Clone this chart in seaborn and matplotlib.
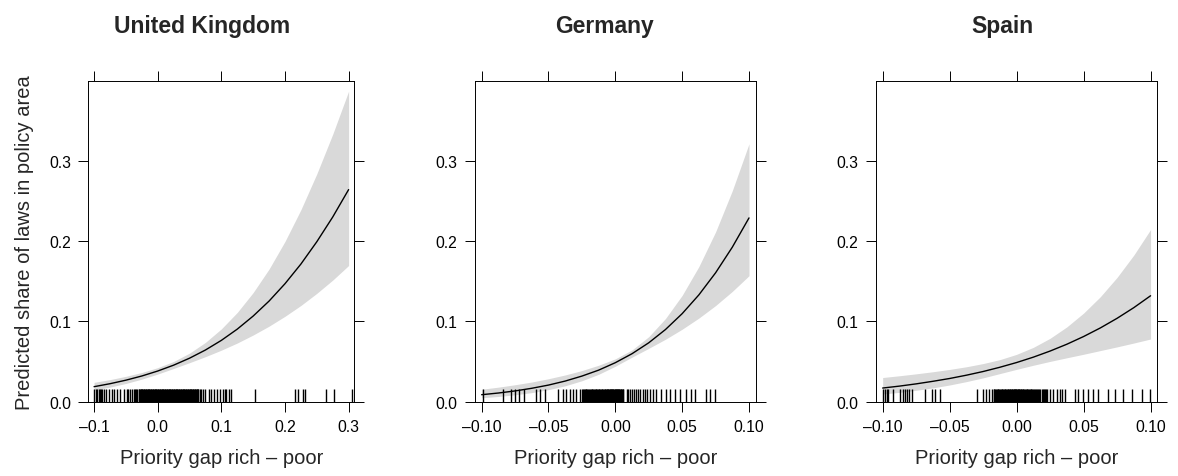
import matplotlib
matplotlib.use("Agg")
import matplotlib.pyplot as plt
import numpy as np
import pandas as pd
import seaborn as sns

# predicted share (line) and 95% band
uk_x = [-0.1, -0.075, -0.05, -0.025, 0.0, 0.025, 0.05, 0.075, 0.1,
        0.125, 0.15, 0.175, 0.2, 0.225, 0.25, 0.275, 0.3]
uk_fit = [0.0187, 0.0224, 0.0268, 0.0320, 0.0382, 0.0455, 0.0542, 0.0644, 0.0764,
          0.0904, 0.1067, 0.1254, 0.1470, 0.1715, 0.1993, 0.2301, 0.2643]
uk_upper = [0.0241, 0.0275, 0.0316, 0.0364, 0.0424, 0.0501, 0.0605, 0.0739, 0.0907,
            0.1112, 0.1360, 0.1653, 0.1997, 0.2392, 0.2839, 0.3333, 0.3870]
uk_lower = [0.0145, 0.0182, 0.0227, 0.0281, 0.0344, 0.0414, 0.0486, 0.0561, 0.0642,
            0.0731, 0.0831, 0.0941, 0.1064, 0.1199, 0.1350, 0.1515, 0.1697]

de_x = [-0.1, -0.0875, -0.075, -0.0625, -0.05, -0.0375, -0.025, -0.0125, 0.0,
        0.0125, 0.025, 0.0375, 0.05, 0.0625, 0.075, 0.0875, 0.1]
de_fit = [0.0087, 0.0108, 0.0134, 0.0167, 0.0207, 0.0257, 0.0319, 0.0393, 0.0486,
          0.0598, 0.0734, 0.0899, 0.1097, 0.1331, 0.1606, 0.1925, 0.2290]
de_upper = [0.0155, 0.0181, 0.0211, 0.0245, 0.0286, 0.0333, 0.0388, 0.0454, 0.0534,
            0.0645, 0.0810, 0.1036, 0.1325, 0.1684, 0.2116, 0.2629, 0.3214]
de_lower = [0.0049, 0.0065, 0.0086, 0.0113, 0.0150, 0.0198, 0.0261, 0.0341, 0.0442,
            0.0555, 0.0665, 0.0778, 0.0903, 0.1042, 0.1198, 0.1374, 0.1570]

es_x = de_x
es_fit = [0.0170, 0.0194, 0.0222, 0.0254, 0.0289, 0.0330, 0.0376, 0.0429, 0.0488,
          0.0555, 0.0631, 0.0716, 0.0812, 0.0919, 0.1039, 0.1172, 0.1320]
es_upper = [0.0301, 0.0323, 0.0347, 0.0373, 0.0402, 0.0435, 0.0475, 0.0524, 0.0590,
            0.0677, 0.0790, 0.0932, 0.1104, 0.1308, 0.1549, 0.1827, 0.2145]
es_lower = [0.0096, 0.0116, 0.0142, 0.0172, 0.0208, 0.0250, 0.0297, 0.0350, 0.0403,
            0.0454, 0.0502, 0.0547, 0.0591, 0.0637, 0.0683, 0.0731, 0.0781]

# observed priority gaps (rug)
uk_rug = [-0.100, -0.097, -0.095, -0.093, -0.091, -0.089, -0.087, -0.084, -0.081, -0.077,
          -0.072, -0.068, -0.064, -0.060, -0.053, -0.049, -0.046, -0.043, -0.040, -0.038,
          -0.036, -0.034, -0.032, -0.030, -0.028, -0.026, -0.024, -0.022, -0.020, -0.018,
          -0.016, -0.014, -0.012, -0.010, -0.008, -0.006, -0.004, -0.002, 0.000, 0.002,
          0.004, 0.006, 0.008, 0.010, 0.012, 0.014, 0.016, 0.018, 0.020, 0.022, 0.024,
          0.026, 0.028, 0.030, 0.032, 0.034, 0.036, 0.038, 0.040, 0.042, 0.044, 0.046,
          0.048, 0.050, 0.052, 0.054, 0.056, 0.058, 0.060, 0.062, 0.064, 0.068, 0.071,
          0.075, 0.080, 0.084, 0.089, 0.093, 0.098, 0.102, 0.105, 0.108, 0.112, 0.115,
          -0.029, -0.027, -0.025, -0.023, -0.021, -0.019, -0.017, -0.015, -0.013, -0.011,
          -0.009, -0.007, -0.005, -0.003, -0.001, 0.001, 0.003, 0.005, 0.007, 0.009,
          0.011, 0.013, 0.015, 0.017, 0.019, 0.021, 0.023, 0.025, 0.027, 0.029, 0.031,
          0.033, 0.035, 0.037, 0.039, 0.041, 0.043, 0.045, 0.047, 0.049, 0.051, 0.053,
          0.055, 0.057, 0.059, 0.061, 0.063, 0.066,
          0.153, 0.216, 0.220, 0.228, 0.231, 0.264, 0.277, 0.305]
de_rug = [-0.0993, -0.0839, -0.0782, -0.0752, -0.0722, -0.0682, -0.059, -0.056, -0.0528,
          -0.0428, -0.0391, -0.0371, -0.0341, -0.0316, -0.0291, -0.0266, -0.0248, -0.0235,
          -0.0222, -0.021, -0.0198, -0.0185, -0.0172, -0.016, -0.0148, -0.0137, -0.0125,
          -0.0114, -0.0103, -0.0092, -0.0081, -0.0071, -0.0061, -0.0052, -0.0043, -0.0034,
          -0.0026, -0.0018, -0.001, -0.0002, 0.0006, 0.0014, 0.0022, 0.0031, 0.004, 0.005,
          0.006, -0.0241, -0.0228, -0.0216, -0.0204, -0.0191, -0.0178, -0.0166, -0.0154,
          -0.0142, -0.0131, -0.0119, -0.0108, -0.0097, -0.0086, -0.0076, -0.0066, -0.0056,
          -0.0047, -0.0038, -0.003, -0.0022, -0.0014, -0.0006, 0.0002, 0.001, 0.0018,
          0.0026, 0.0035, 0.0045, 0.0055,
          0.0085, 0.0098, 0.011, 0.0125, 0.0142, 0.0155, 0.0168, 0.0185, 0.0205,
          0.0222, 0.024, 0.0262, 0.0282, 0.0307, 0.0344, 0.0382, 0.0407, 0.0444, 0.0481,
          0.0531, 0.0569, 0.0593, 0.0681, 0.0706, 0.0743]
es_rug = [-0.1, -0.0983, -0.097, -0.0958, -0.0921, -0.0871, -0.0851, -0.0834, -0.0821,
          -0.0801, -0.0784, -0.0684, -0.0634, -0.061, -0.0572, -0.0299, -0.0249, -0.0229,
          -0.0204, -0.0187, -0.0172, -0.016, -0.0148, -0.0136, -0.0124, -0.0112, -0.0101,
          -0.009, -0.0079, -0.0068, -0.0058, -0.0048, -0.0038, -0.0028, -0.0019, -0.001,
          -0.0001, 0.0008, 0.0017, 0.0026, 0.0036, 0.0046, 0.0057, 0.0068, 0.008, 0.0092,
          0.0105, 0.0118, 0.0132, 0.0147, 0.0163, 0.0178, 0.0195, 0.021, 0.0224,
          -0.0166, -0.0154, -0.0142, -0.013, -0.0118, -0.0106, -0.0095, -0.0084, -0.0073,
          -0.0063, -0.0053, -0.0043, -0.0033, -0.0023, -0.0014, -0.0005, 0.0004, 0.0012,
          0.0021, 0.0031, 0.0041, 0.0051, 0.0062, 0.0074, 0.0086, 0.0098, 0.0111, 0.0125,
          0.014, 0.0155, 0.017, 0.0186, 0.0202, 0.0217,
          0.0249, 0.0274, 0.0299, 0.0323, 0.0336, 0.036, 0.0435, 0.046, 0.0498, 0.0535,
          0.0572, 0.061, 0.0684, 0.0734, 0.0796, 0.0858, 0.0933, 0.0995]

countries = ["United Kingdom", "Germany", "Spain"]
uk_ticks = [-0.1, 0.0, 0.1, 0.2, 0.3]
de_ticks = [-0.10, -0.05, 0.00, 0.05, 0.10]
y_ticks = [0.0, 0.1, 0.2, 0.3]

sns.set_style("ticks")
plt.rcParams["font.family"] = ["Liberation Sans", "DejaVu Sans"]

fig = plt.figure(figsize=(11.78, 4.77), dpi=100)

panels = [
    (uk_x, uk_fit, uk_upper, uk_lower, uk_rug, uk_ticks, "%.1f", (-0.109, 0.309), [0.0750, 0.1558, 0.2258, 0.6729], 202.5),
    (de_x, de_fit, de_upper, de_lower, de_rug, de_ticks, "%.2f", (-0.105, 0.105), [0.4032, 0.1558, 0.2383, 0.6729], 604),
    (es_x, es_fit, es_upper, es_lower, es_rug, de_ticks, "%.2f", (-0.105, 0.105), [0.7436, 0.1558, 0.2388, 0.6729], 1002),
]

for i, (xs, fit, up, lo, rug, xt, fmt, xlim, pos, tx) in enumerate(panels):
    ax = fig.add_axes(pos)
    df = pd.DataFrame({"gap": xs, "fit": fit, "upper": up, "lower": lo})
    ax.fill_between(df["gap"], df["lower"], df["upper"], color="#d9d9d9", lw=0)
    sns.lineplot(data=df, x="gap", y="fit", ax=ax, color="black", lw=1.0)
    sns.rugplot(x=rug, ax=ax, height=0.04, color="black", lw=0.75, expand_margins=False)

    ax.set_xlim(*xlim)
    ax.set_ylim(0, 0.4)
    ax.set_xticks(xt)
    ax.set_xticklabels([(fmt % v).replace("-", "\u2013") for v in xt])
    ax.set_yticks(y_ticks)
    ax.set_yticklabels(["%.1f" % v for v in y_ticks])
    if i == 0:
        ax.set_ylabel("Predicted share of laws in policy area", fontsize=14.5, labelpad=11)
    else:
        ax.set_ylabel("")
    ax.set_xlabel("Priority gap rich \u2013 poor", fontsize=14.5, labelpad=10)
    ax.tick_params(axis="both", direction="out", length=7.5, width=0.7,
                   top=True, right=True, labeltop=False, labelright=False,
                   labelsize=11.3, pad=5, colors="black")
    for s in ax.spines.values():
        s.set_linewidth(0.7)
        s.set_color("black")
    fig.text(tx / 1178, 1 - 26 / 477, countries[i], ha="center", va="center",
             fontsize=16.5, fontweight="bold")

fig.savefig("out.png", dpi=100)
